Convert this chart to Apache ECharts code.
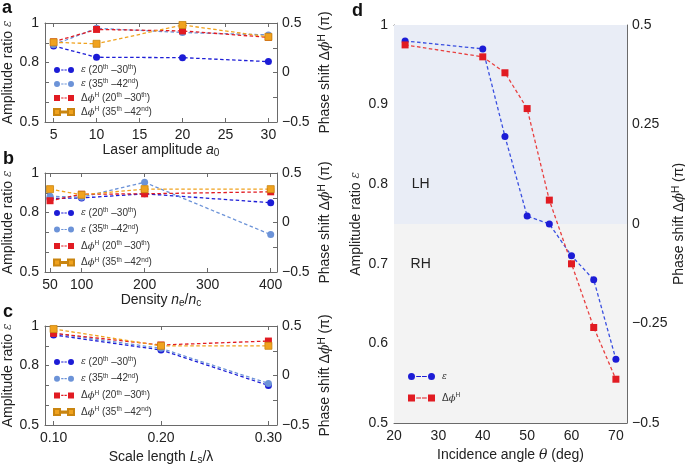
<!DOCTYPE html>
<html><head><meta charset="utf-8">
<script src="https://cdn.jsdelivr.net/npm/echarts@6/dist/echarts.min.js"></script>
<style>html,body{margin:0;padding:0;background:#fff}#c{width:685px;height:468px}</style>
</head><body><div id="c"></div>
<script>
// ---------- data ----------
const aX = [5, 10, 20, 30];
const aEps1 = [0.884, 0.827, 0.825, 0.805];
const aEps2 = [0.89, 0.973, 0.952, 0.94];
const aPhi1 = [0.31, 0.435, 0.42, 0.355];
const aPhi2 = [0.305, 0.29, 0.48, 0.36];

const bX = [50, 100, 200, 400];
const bEps1 = [0.871, 0.874, 0.895, 0.85];
const bEps2 = [0.882, 0.878, 0.953, 0.689];
const bPhi1 = [0.22, 0.285, 0.29, 0.31];
const bPhi2 = [0.337, 0.28, 0.337, 0.337];

const cX = [0.1, 0.2, 0.3];
const cEps1 = [0.955, 0.879, 0.70];
const cEps2 = [0.963, 0.887, 0.71];
const cPhi1 = [0.426, 0.308, 0.348];
const cPhi2 = [0.47, 0.30, 0.30];

const dX = [22.5, 40, 45, 50, 55, 60, 65, 70];
const dEps = [0.98, 0.97, 0.86, 0.76, 0.75, 0.71, 0.68, 0.58];
const dPhi = [0.45, 0.42, 0.38, 0.29, 0.06, -0.10, -0.26, -0.39];

const aXTicks = [5, 10, 15, 20, 25, 30];
const bXTicks = [50, 100, 200, 300, 400];
const cXTicks = [0.1, 0.2, 0.3];
const dXTicks = [20, 30, 40, 50, 60, 70];
const epsTicks = [0.5, 0.6, 0.7, 0.8, 0.9, 1];
const epsLabels = [0.5, 0.8, 1];
const phiTicks = [-0.5, -0.25, 0, 0.25, 0.5];
const phiLabels = [-0.5, 0, 0.5];

// ---------- styling ----------
const FONT = 'Liberation Sans, Arial, Helvetica, sans-serif';
const C_E1 = '#1c1cd6', C_E2 = '#6c93d8', C_P1 = '#e11b22', C_P2 = '#f0a21e';
const AX = '#6a6a6a';

function iconPath(w, d, sq) {
  const r = d / 2;
  const m = sq ? (x) => `M${x},0h${d}v${d}h-${d}z`
               : (x) => `M${x},${r}a${r},${r} 0 1,0 ${d},0a${r},${r} 0 1,0 -${d},0z`;
  const g0 = d + 1.2, g1 = w - d - 1.2, L = (g1 - g0 - 1) / 2;
  const y = r - 0.6;
  return 'path://' + m(0) + m(w - d) +
    `M${g0},${y}h${L}v1.2h-${L}z` + `M${g0 + L + 1},${y}h${L}v1.2h-${L}z`;
}

const richCommon = {
  e: { fontFamily: 'DejaVu Serif', fontStyle: 'italic', fontSize: 9, color: '#333' },
  sup: { fontSize: 6.5, verticalAlign: 'top', color: '#333', lineHeight: 12 },
  t: { fontSize: 10, color: '#333', fontFamily: FONT },
  i: { fontStyle: 'italic', fontSize: 10, color: '#333', fontFamily: 'DejaVu Serif' }
};
const legendText = {
  e1: '{e|ε}{t| (20}{sup|th}{t| –30}{sup|th}{t|)}',
  e2: '{e|ε}{t| (35}{sup|th}{t| –42}{sup|nd}{t|)}',
  p1: '{t|Δ}{i|ϕ}{sup|H}{t| (20}{sup|th}{t| –30}{sup|th}{t|)}',
  p2: '{t|Δ}{i|ϕ}{sup|H}{t| (35}{sup|th}{t| –42}{sup|nd}{t|)}',
  de: '{e|ε}',
  dp: '{t|Δ}{i|ϕ}{sup|H}'
};

const nameRich = {
  i: { fontStyle: 'italic', fontSize: 14, fontFamily: FONT, color: '#222' },
  sub: { fontSize: 10, verticalAlign: 'bottom', fontFamily: FONT, color: '#222', padding: [6, 0, 0, 0] },
  sup: { fontSize: 10, verticalAlign: 'top', fontFamily: FONT, color: '#222', padding: [0, 0, 6, 0] },
  e: { fontStyle: 'italic', fontSize: 12, fontFamily: 'DejaVu Serif', color: '#444' },
  ph: { fontStyle: 'italic', fontSize: 14, fontFamily: 'DejaVu Serif', color: '#222' },
  th: { fontStyle: 'italic', fontSize: 14, fontFamily: 'DejaVu Serif', color: '#222' }
};
const nameStyle = { fontSize: 14, fontFamily: FONT, color: '#222', rich: nameRich };

const fmtNum = (v) => {
  const s = String(Math.round(v * 1000) / 1000);
  return v < 0 ? '\u2212' + s.replace('-', '') : s;
};

function xAxes(gi, min, max, ticks, name, gap, fmt) {
  const base = {
    type: 'value', gridIndex: gi, min: min, max: max,
    axisLine: { show: true, onZero: false, lineStyle: { color: AX } },
    splitLine: { show: false },
    axisTick: { show: true, inside: true, length: 4, lineStyle: { color: AX }, customValues: ticks },
  };
  return [
    Object.assign({}, base, {
      position: 'bottom', name: name, nameLocation: 'middle', nameGap: gap, nameTextStyle: nameStyle,
      axisLabel: { show: true, customValues: ticks, margin: 6, fontSize: 14, fontFamily: FONT, color: '#222', formatter: fmt || fmtNum }
    }),
    Object.assign({}, base, { position: 'top', axisLabel: { show: false } })
  ];
}
function yAxes(gi, epsL, phiL, epsT, phiT) {
  const common = {
    type: 'value', gridIndex: gi, nameLocation: 'middle', nameRotate: 90, nameTextStyle: nameStyle,
    axisLine: { show: true, onZero: false, lineStyle: { color: AX } }, splitLine: { show: false },
  };
  return [
    Object.assign({}, common, {
      position: 'left', min: 0.5, max: 1, name: 'Amplitude ratio {e|ε}', nameGap: gi === 3 ? 31 : 30,
      axisTick: { show: true, inside: true, length: 4, lineStyle: { color: AX }, customValues: epsT },
      axisLabel: { customValues: epsL, margin: 6, fontSize: 14, fontFamily: FONT, color: '#222', formatter: fmtNum }
    }),
    Object.assign({}, common, {
      position: 'right', min: -0.5, max: 0.5, name: 'Phase shift Δ{ph|ϕ}{sup|H} (π)', nameGap: 40,
      axisTick: { show: true, inside: true, length: 4, lineStyle: { color: AX }, customValues: phiT },
      axisLabel: { customValues: phiL, margin: 5, fontSize: 14, fontFamily: FONT, color: '#222', formatter: fmtNum }
    })
  ];
}

const lineStyle = (c) => ({ color: c, width: 1.3, type: [3.5, 2.5] });
function ser(name, gi, xs, ys, yi, color, sym, extra) {
  return Object.assign({
    name: name, type: 'line', xAxisIndex: gi * 2, yAxisIndex: gi * 2 + yi,
    data: xs.map((x, k) => [x, ys[k]]),
    symbol: sym, symbolSize: 7, showSymbol: true,
    lineStyle: lineStyle(color),
    itemStyle: { color: color, borderColor: color === C_P2 ? '#c98510' : color, borderWidth: color === C_P2 ? 0.8 : 0 },
    emphasis: { disabled: true }, animation: false, z: 3
  }, extra || {});
}

const panelSeries = (gi, xs, e1, e2, p1, p2) => [
  ser('e1', gi, xs, e1, 0, C_E1, 'circle'),
  ser('e2', gi, xs, e2, 0, C_E2, 'circle'),
  ser('p1', gi, xs, p1, 1, C_P1, 'rect'),
  ser('p2', gi, xs, p2, 1, C_P2, 'rect'),
];

function legendFor(top, gap, left, names, w, d) {
  return {
    orient: 'vertical', left: left, top: top, itemGap: gap,
    itemWidth: w, itemHeight: d, padding: 0, selectedMode: false,
    textStyle: { rich: richCommon, padding: [0, 0, 0, 2] },
    formatter: (n) => legendText[n],
    data: names.map((n) => ({ name: n, icon: iconPath(w, d, n[0] === 'p' || n === 'dp') }))
  };
}

const grids = [
  { left: 45, top: 23, width: 232, height: 99 },
  { left: 45, top: 173, width: 232, height: 99 },
  { left: 45, top: 326, width: 232, height: 99 },
  { left: 394, top: 25, width: 233, height: 398 },
].map((g) => Object.assign({ show: false, outerBoundsMode: 'none', containLabel: false }, g));

const xA = [].concat(
  xAxes(0, 4, 31, aXTicks, 'Laser amplitude {i|a}{sub|0}', 14),
  xAxes(1, 42, 410, bXTicks, 'Density {i|n}{sub|e}/{i|n}{sub|c}', 20),
  xAxes(2, 0.092, 0.308, cXTicks, 'Scale length {i|L}{sub|s}/λ', 24, (v) => v.toFixed(2)),
  xAxes(3, 20, 72.5, dXTicks, 'Incidence angle {th|θ} (deg)', 21)
);
const yA = [].concat(
  yAxes(0, epsLabels, phiLabels, epsTicks, phiTicks),
  yAxes(1, epsLabels, phiLabels, epsTicks, phiTicks),
  yAxes(2, epsLabels, phiLabels, epsTicks, phiTicks),
  yAxes(3, epsTicks, phiTicks, epsTicks, phiTicks)
);

const series = [].concat(
  panelSeries(0, aX, aEps1, aEps2, aPhi1, aPhi2),
  panelSeries(1, bX, bEps1, bEps2, bPhi1, bPhi2),
  panelSeries(2, cX, cEps1, cEps2, cPhi1, cPhi2),
  [
    ser('de', 3, dX, dEps, 0, '#1c1cd6', 'circle', {
      lineStyle: lineStyle('#3a4fe0'),
      markArea: {
        silent: true,
        data: [
          [{ yAxis: 0.75, itemStyle: { color: '#e9edf6' } }, { yAxis: 1 }],
          [{ yAxis: 0.5, itemStyle: { color: '#f3f3f3' } }, { yAxis: 0.75 }]
        ]
      },
      markPoint: {
        silent: true, symbol: 'circle', symbolSize: 1, itemStyle: { color: 'rgba(0,0,0,0)' },
        label: { show: true, position: 'inside', formatter: '{b}', fontSize: 14, fontFamily: FONT, color: '#222' },
        data: [{ name: 'LH', coord: [26, 0.8] }, { name: 'RH', coord: [26, 0.7] }]
      }
    }),
    ser('dp', 3, dX, dPhi, 1, '#e11b22', 'rect', { lineStyle: lineStyle('#e84040') })
  ]
);

const letter = (t, x, y) => ({ type: 'text', left: x, top: y, style: { text: t, fontSize: 18, fontWeight: 'bold', fontFamily: FONT, fill: '#111' } });

const option = {
  animation: false,
  grid: grids,
  xAxis: xA,
  yAxis: yA,
  legend: [
    legendFor(64, 3, 53, ['e1', 'e2', 'p1', 'p2'], 20, 6),
    legendFor(207, 5.5, 53, ['e1', 'e2', 'p1', 'p2'], 20, 6),
    legendFor(356, 5.7, 53, ['e1', 'e2', 'p1', 'p2'], 20, 6),
    legendFor(372, 11, 408, ['de', 'dp'], 27, 7),
  ],
  series: series,
  graphic: [letter('a', 2, -1), letter('b', 3, 150), letter('c', 3, 303), letter('d', 352, 2)]
};

const chart = echarts.init(document.getElementById('c'), null, { renderer: 'canvas' });
chart.setOption(option);
</script>
</body></html>
